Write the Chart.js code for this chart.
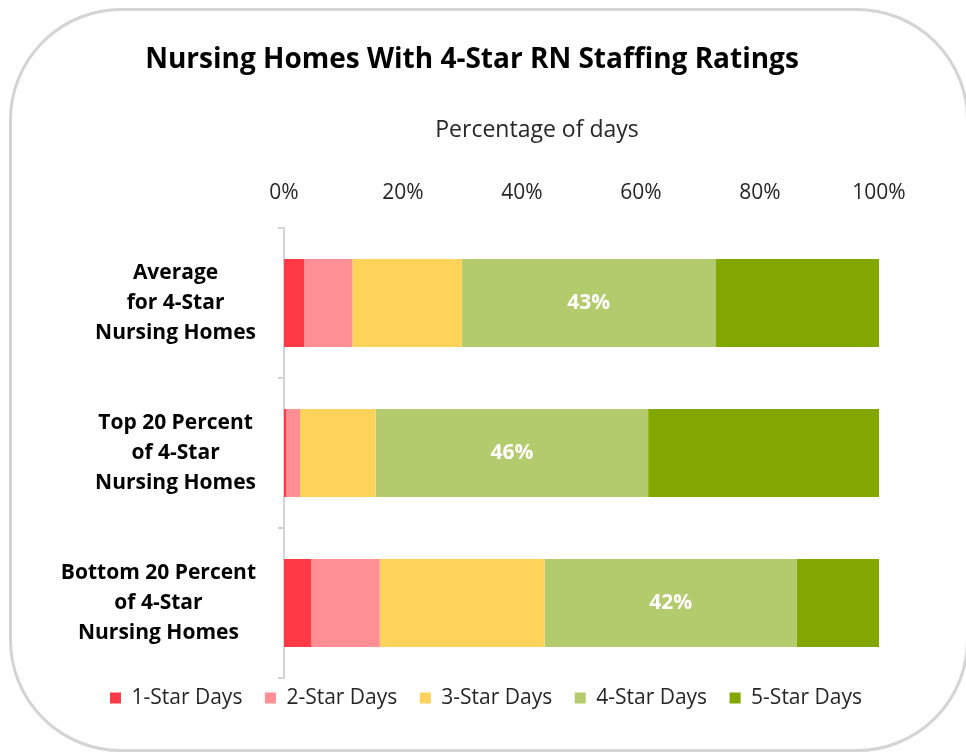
<!DOCTYPE html>
<html><head><meta charset="utf-8">
<script src="https://cdn.jsdelivr.net/npm/chart.js@4/dist/chart.umd.min.js"></script>
<style>
html,body{margin:0;padding:0;background:#fff;overflow:hidden;}
#wrap{position:relative;width:966px;height:754px;}
#frame{position:absolute;left:9px;top:8px;width:960px;height:744px;box-sizing:border-box;border:3px solid #d4d4d4;border-radius:112px;}
canvas{position:absolute;left:0;top:0;}
</style></head><body>
<div id="wrap"><div id="frame"></div><canvas id="c" width="966" height="754"></canvas></div>
<script>
const chartTitle = "Nursing Homes With 4-Star RN Staffing Ratings";
const axisTitle = "Percentage of days";
const categories = [
  ["Average", "for 4-Star", "Nursing Homes"],
  ["Top 20 Percent", "of 4-Star", "Nursing Homes"],
  ["Bottom 20 Percent", "of 4-Star", "Nursing Homes"]
];
const seriesNames = ["1-Star Days", "2-Star Days", "3-Star Days", "4-Star Days", "5-Star Days"];
const oneStar   = [3.4, 0.4, 4.6];
const twoStar   = [8.1, 2.3, 11.5];
const threeStar = [18.4, 12.7, 27.7];
const fourStar  = [42.6, 45.8, 42.4];
const fiveStar  = [27.5, 38.8, 13.8];
const xTicks = [0, 20, 40, 60, 80, 100];
const labeledSeries = 3;

const colors = ["#FF3946", "#FF8F95", "#FFD35A", "#B3CB6C", "#82A800"];
const FONT = "'Open Sans', 'Noto Sans', sans-serif";
const seriesData = [oneStar, twoStar, threeStar, fourStar, fiveStar];

const textPlugin = {
  id: 'texts',
  afterLayout(chart) {
    const lg = chart.legend;
    lg.top -= 13; lg.bottom -= 13;
    lg.left += 14; lg.right += 14;
  },
  afterDraw(chart) {
    const ctx = chart.ctx, y = chart.scales.y;
    ctx.save();
    ctx.textAlign = "center";
    ctx.textBaseline = "middle";
    // axis title
    ctx.font = "23px " + FONT;
    ctx.fillStyle = "#262626";
    ctx.fillText(axisTitle, 537, 130);
    // category labels
    ctx.font = "bold 21px " + FONT;
    ctx.fillStyle = "#000";
    const rightEdge = 256, lh = 30;
    categories.forEach((lines, i) => {
      const cy = y.getPixelForValue(i);
      const w = Math.max(...lines.map(l => ctx.measureText(l).width));
      const cx = rightEdge - w / 2;
      lines.forEach((l, j) => ctx.fillText(l, cx, cy + (j - (lines.length - 1) / 2) * lh));
    });
    ctx.restore();
  },
  afterDatasetsDraw(chart) {
    const ctx = chart.ctx;
    const meta = chart.getDatasetMeta(labeledSeries);
    ctx.save();
    ctx.font = "bold 21px " + FONT;
    ctx.fillStyle = "#fff";
    ctx.textAlign = "center";
    ctx.textBaseline = "middle";
    meta.data.forEach((bar, i) => {
      const v = seriesData[labeledSeries][i];
      ctx.fillText(Math.round(v) + "%", (bar.x + bar.base) / 2, bar.y);
    });
    ctx.restore();
  }
};

new Chart(document.getElementById('c'), {
  type: 'bar',
  data: {
    labels: categories,
    datasets: seriesNames.map((n, k) => ({
      label: n,
      data: seriesData[k],
      backgroundColor: colors[k],
      borderWidth: 0,
      categoryPercentage: 1,
      barPercentage: 0.587
    }))
  },
  options: {
    indexAxis: 'y',
    responsive: false,
    animation: false,
    layout: { padding: { left: 65, right: 87, top: 0, bottom: 22.5 } },
    plugins: {
      title: {
        display: true, text: chartTitle, color: "#000",
        font: { family: FONT, size: 28, weight: 'bold' },
        padding: { top: 43.2, bottom: 0 }
      },
      legend: {
        position: 'bottom',
        labels: {
          color: "#262626", font: { family: FONT, size: 21 },
          boxWidth: 11, boxHeight: 11, padding: 22.5
        }
      },
      tooltip: { enabled: false }
    },
    scales: {
      x: {
        position: 'top', stacked: true, min: 0, max: 100,
        afterBuildTicks(s) { s.ticks = xTicks.map(v => ({ value: v })); },
        afterFit(s) { s.height = 151.2; },
        ticks: { callback: v => v + "%", color: "#262626", font: { family: FONT, size: 21 }, padding: 14.4 },
        grid: { display: false },
        border: { display: false }
      },
      y: {
        stacked: true,
        afterFit(s) { s.width = 219; },
        ticks: { display: false },
        grid: { display: true, drawOnChartArea: false, drawTicks: true, tickLength: 6, offset: true, color: "#d4d4d4", lineWidth: 2 },
        border: { display: true, color: "#d4d4d4", width: 2 }
      }
    }
  },
  plugins: [textPlugin]
});
</script>
</body></html>
